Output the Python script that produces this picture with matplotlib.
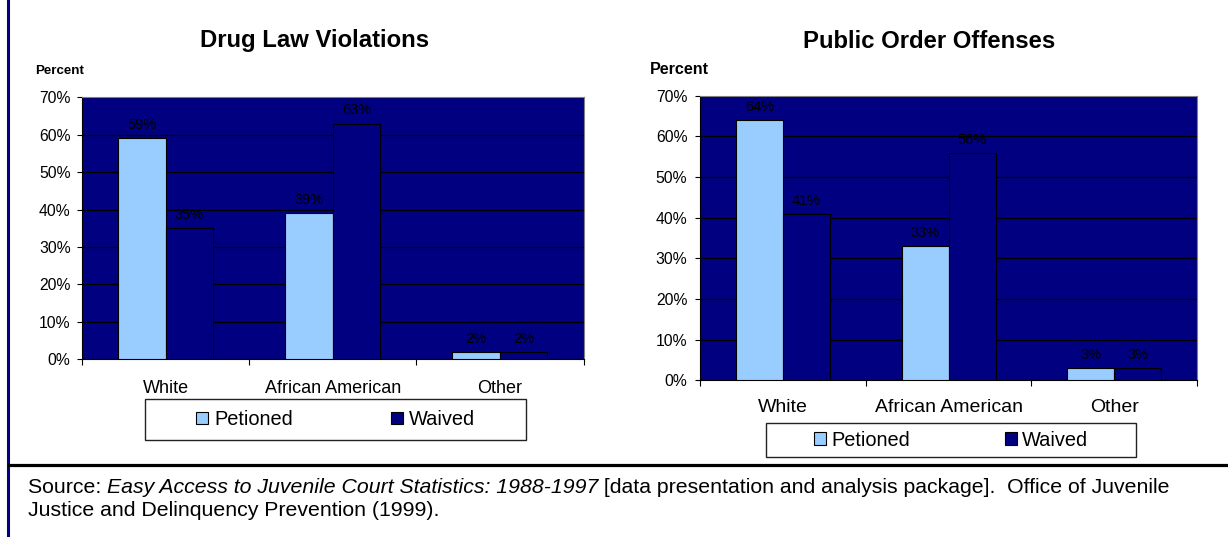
import numpy as np
import matplotlib
matplotlib.use('Agg')
import matplotlib.pyplot as plt
from matplotlib.ticker import PercentFormatter
from matplotlib.lines import Line2D
from matplotlib.patches import Rectangle

plt.rcParams['font.family'] = ['Liberation Sans', 'DejaVu Sans']

# data
categories = ['White', 'African American', 'Other']
drug_petioned = [59, 39, 2]
drug_waived = [35, 63, 2]
public_petioned = [64, 33, 3]
public_waived = [41, 56, 3]
series_names = ['Petioned', 'Waived']

LIGHT = '#99CCFF'
NAVY = '#000080'

W, H = 1228, 537
fig = plt.figure(figsize=(W / 100, H / 100), dpi=100)


def fx(px):
    return px / W


def fy(py):
    return 1 - py / H


def draw_panel(rect, title, title_xy, pct_xy, pct_size, pet, wav,
               cat_size, cat_pad, ytick_pad, lab_off, legend_box, leg_gap, leg_tpad):
    ax = fig.add_axes(rect)
    ax.set_facecolor(NAVY)
    x = np.arange(len(categories))
    bw = 0.284
    b1 = ax.bar(x - bw / 2, pet, bw, color=LIGHT, edgecolor='black', linewidth=0.8, zorder=3)
    b2 = ax.bar(x + bw / 2, wav, bw, color=NAVY, edgecolor='black', linewidth=0.8, zorder=3)
    for bars, vals in ((b1, pet), (b2, wav)):
        for r, v in zip(bars, vals):
            ax.annotate(f'{v}%', (r.get_x() + r.get_width() / 2, v),
                        xytext=(0, lab_off), textcoords='offset points',
                        ha='center', va='center', fontsize=10.5, color='black', zorder=4)
    ax.set_xlim(-0.5, 2.5)
    ax.set_ylim(0, 70)
    ax.set_yticks(range(0, 71, 10))
    ax.yaxis.set_major_formatter(PercentFormatter(decimals=0))
    ax.tick_params(axis='y', length=3.3, width=0.8, pad=ytick_pad, labelsize=11.3)
    ax.set_xticks([-0.5, 0.5, 1.5, 2.5])
    ax.set_xticklabels([])
    ax.tick_params(axis='x', which='major', length=4.5, width=0.8)
    ax.set_xticks(x, categories, minor=True)
    ax.tick_params(axis='x', which='minor', length=0, pad=cat_pad, labelsize=cat_size)
    ax.yaxis.grid(True, color='black', linewidth=0.9)
    ax.set_axisbelow(True)
    for s in ('top', 'right'):
        ax.spines[s].set_color('#808080')
    for s in ('left', 'bottom'):
        ax.spines[s].set_color('black')
    fig.text(fx(title_xy[0]), fy(title_xy[1]), title, ha='center', va='center',
             fontsize=17.2, fontweight='bold')
    fig.text(fx(pct_xy[0]), fy(pct_xy[1]), 'Percent', ha='left', va='center',
             fontsize=pct_size, fontweight='bold')
    # legend box
    x0, y0, x1, y1 = legend_box
    fig.patches.append(Rectangle((fx(x0), fy(y1)), fx(x1 - x0), (y1 - y0) / H,
                                 transform=fig.transFigure, facecolor='white',
                                 edgecolor='#222222', linewidth=1.0))
    fig.legend([b1, b2], series_names, loc='center',
               bbox_to_anchor=(fx((x0 + x1) / 2), fy((y0 + y1) / 2)),
               ncol=2, frameon=False, fontsize=14.4, columnspacing=leg_gap,
               handlelength=0.6, handleheight=0.6, handletextpad=leg_tpad,
               borderpad=0, borderaxespad=0)
    return ax


draw_panel([fx(82), fy(359.3), fx(583.5) - fx(82), (359.3 - 97.3) / H],
           'Drug Law Violations', (315, 41), (35, 70.5), 9.6,
           drug_petioned, drug_waived, 13, 15, 5, 9.5,
           (145, 399.3, 526, 440), 4.9, 0.3)

draw_panel([fx(700.2), fy(380.3), fx(1197) - fx(700.2), (380.3 - 95.7) / H],
           'Public Order Offenses', (929, 41.7), (650, 70), 11.6,
           public_petioned, public_waived, 14, 13.5, 6, 9.4,
           (766, 423.3, 1136, 457.3), 4.75, 0.25)

# frame lines
fig.add_artist(Line2D([fx(7.5), fx(7.5)], [0, 1], transform=fig.transFigure,
                      color=NAVY, linewidth=2.2))
fig.add_artist(Line2D([fx(9), 1], [fy(464.5), fy(464.5)], transform=fig.transFigure,
                      color='black', linewidth=2.3))

# source note
src_size = 15.3
t1 = fig.text(fx(28), fy(493), 'Source: ', fontsize=src_size, va='baseline', ha='left')
t2 = fig.text(0, 0, 'Easy Access to Juvenile Court Statistics: 1988-1997', fontsize=src_size,
              style='italic', va='baseline', ha='left')
t3 = fig.text(0, 0, ' [data presentation and analysis package].  Office of Juvenile',
              fontsize=src_size, va='baseline', ha='left')
fig.text(fx(28), fy(516), 'Justice and Delinquency Prevention (1999).', fontsize=src_size,
         va='baseline', ha='left')

# chain the pieces of line 1 one after another
fig.canvas.draw()
r = fig.canvas.get_renderer()
bb = t1.get_window_extent(r)
t2.set_position((bb.x1 / W, fy(493)))
fig.canvas.draw()
bb = t2.get_window_extent(r)
t3.set_position((bb.x1 / W, fy(493)))

fig.savefig('out.png', dpi=100)
